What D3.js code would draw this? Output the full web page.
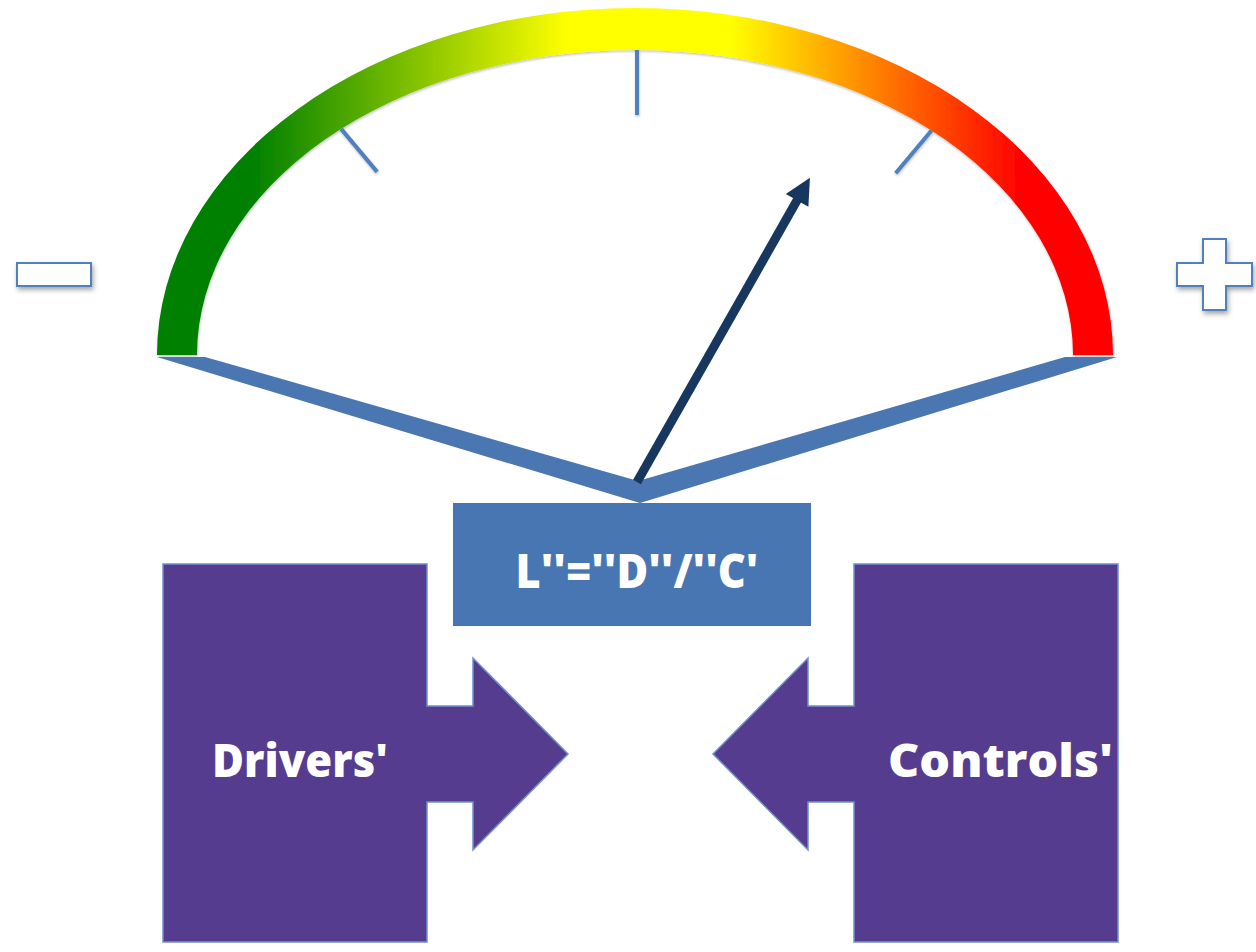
<!DOCTYPE html>
<html>
<head>
<meta charset="utf-8">
<script src="https://cdn.jsdelivr.net/npm/d3@7"></script>
<style>
  html, body { margin: 0; padding: 0; background: #ffffff; }
  svg { display: block; }
</style>
</head>
<body>
<svg id="chart" width="1256" height="952"></svg>
<script>
// ---- data ----
const gaugeStops  = [0, 0.10, 0.43, 0.60, 0.905, 1];
const gaugeColors = ["#008000", "#008000", "#ffff00", "#ffff00", "#ff0000", "#ff0000"];
const tickValues  = [-0.444, 0, 0.444];   // scale positions of gauge ticks
const needleValue = 0.329;                // needle reading
const formulaText = "L''=''D''/''C'";
const factorLabels = ["Drivers'", "Controls'"];
const signLabels  = ["minus", "plus"];

// ---- layout ----
const svg = d3.select("#chart");
const C = {x: 635, y: 355};            // ellipse centre of the dial
const P = {x: 637, y: 482};            // needle pivot
const outerR = {rx: 478, ry: 347};
const innerR = {rx: 438, ry: 305};
const tickInR = {rx: 399, ry: 240};

const angle = d3.scaleLinear().domain([-1, 1]).range([-90, 90]); // degrees from vertical

const defs = svg.append("defs");
const grad = defs.append("linearGradient").attr("id", "gaugeGrad")
  .attr("gradientUnits", "userSpaceOnUse")
  .attr("x1", C.x - outerR.rx).attr("x2", C.x + outerR.rx).attr("y1", 0).attr("y2", 0);
grad.selectAll("stop").data(gaugeStops).join("stop")
  .attr("offset", d => d).attr("stop-color", (d, i) => gaugeColors[i]);

const shadow = defs.append("filter").attr("id", "shadow")
  .attr("x", "-20%").attr("y", "-20%").attr("width", "150%").attr("height", "160%");
shadow.append("feDropShadow").attr("dx", 1.5).attr("dy", 3).attr("stdDeviation", 2.5)
  .attr("flood-color", "#000").attr("flood-opacity", 0.35);

const softShadow = defs.append("filter").attr("id", "soft")
  .attr("filterUnits", "userSpaceOnUse")
  .attr("x", 0).attr("y", 0).attr("width", 1256).attr("height", 952);
softShadow.append("feDropShadow").attr("dx", 0.5).attr("dy", 1.5).attr("stdDeviation", 1.2)
  .attr("flood-color", "#000").attr("flood-opacity", 0.25);

// ---- gauge arc ----
const arcD = `M${C.x - outerR.rx},${C.y}` +
  ` A${outerR.rx},${outerR.ry} 0 0 1 ${C.x + outerR.rx},${C.y}` +
  ` L${C.x + innerR.rx},${C.y}` +
  ` A${innerR.rx},${innerR.ry} 0 0 0 ${C.x - innerR.rx},${C.y} Z`;
svg.append("path").attr("d", arcD).attr("fill", "url(#gaugeGrad)").attr("filter", "url(#soft)");

// ray from pivot intersecting an ellipse centred at C
function rayHit(deg, R) {
  const t0 = deg * Math.PI / 180;
  const dx = Math.sin(t0), dy = -Math.cos(t0);
  const ox = P.x - C.x, oy = P.y - C.y;
  const a = (dx * dx) / (R.rx * R.rx) + (dy * dy) / (R.ry * R.ry);
  const b = 2 * ((ox * dx) / (R.rx * R.rx) + (oy * dy) / (R.ry * R.ry));
  const c = (ox * ox) / (R.rx * R.rx) + (oy * oy) / (R.ry * R.ry) - 1;
  const t = (-b + Math.sqrt(b * b - 4 * a * c)) / (2 * a);
  return [P.x + t * dx, P.y + t * dy];
}

// ---- ticks ----
svg.append("g").selectAll("line").data(tickValues).join("line")
  .each(function(v) {
    const p1 = rayHit(angle(v), innerR), p2 = rayHit(angle(v), tickInR);
    d3.select(this).attr("x1", p1[0]).attr("y1", p1[1]).attr("x2", p2[0]).attr("y2", p2[1]);
  })
  .attr("stroke", "#4f81bd").attr("stroke-width", 4).attr("filter", "url(#soft)");

// ---- base V shape ----
const vPts = [
  [C.x - outerR.rx, 357], [205, 357], [638, 481], [1065, 357], [C.x + outerR.rx + 4, 357], [640, 503]
];
svg.append("path").attr("d", d3.line()(vPts) + "Z").attr("fill", "#4a76b2");

// ---- needle ----
const nAng = angle(needleValue) * Math.PI / 180;
const nLen = 350, headLen = 26, headHalf = 13;
const ux = Math.sin(nAng), uy = -Math.cos(nAng);
const tip = [P.x + ux * nLen, P.y + uy * nLen];
const base = [tip[0] - ux * headLen, tip[1] - uy * headLen];
svg.append("line")
  .attr("x1", P.x).attr("y1", P.y).attr("x2", base[0] + ux * 2).attr("y2", base[1] + uy * 2)
  .attr("stroke", "#17375e").attr("stroke-width", 9);
svg.append("path")
  .attr("d", d3.line()([
    tip,
    [base[0] - uy * headHalf, base[1] + ux * headHalf],
    [base[0] + uy * headHalf, base[1] - ux * headHalf]
  ]) + "Z")
  .attr("fill", "#17375e");

// ---- formula box ----
svg.append("rect").attr("x", 453).attr("y", 503).attr("width", 358).attr("height", 123)
  .attr("fill", "#4876b3");
svg.append("text").attr("x", 637).attr("y", 588)
  .attr("text-anchor", "middle")
  .attr("font-family", "'Open Sans', 'Noto Sans', sans-serif").attr("font-weight", 800)
  .attr("font-size", 48).attr("fill", "#ffffff")
  .attr("textLength", 243).attr("lengthAdjust", "spacingAndGlyphs")
  .text(formulaText);

// ---- driver / control block arrows ----
function blockArrow(dir) {
  const mid = 640.5;
  const pts = [
    [163, 564], [427, 564], [427, 706], [473, 706], [473, 658], [568, 754],
    [473, 850], [473, 802], [427, 802], [427, 942], [163, 942]
  ].map(p => dir > 0 ? p : [2 * mid - p[0], p[1]]);
  return d3.line()(pts) + "Z";
}
const blocks = svg.append("g");
blocks.selectAll("path").data(factorLabels).join("path")
  .attr("d", (d, i) => blockArrow(i === 0 ? 1 : -1))
  .attr("fill", "#553c8e").attr("stroke", "#7090d0").attr("stroke-width", 1.5);
const labelPos = [[300, 777, 176], [1000.5, 777, 225]];
blocks.selectAll("text").data(factorLabels).join("text")
  .attr("x", (d, i) => labelPos[i][0]).attr("y", (d, i) => labelPos[i][1])
  .attr("text-anchor", "middle")
  .attr("font-family", "'Open Sans', 'Noto Sans', sans-serif").attr("font-weight", 800)
  .attr("font-size", 46).attr("fill", "#ffffff")
  .attr("textLength", (d, i) => labelPos[i][2]).attr("lengthAdjust", "spacingAndGlyphs")
  .text(d => d);

// ---- minus / plus signs ----
const signs = svg.append("g");
signs.selectAll("path").data(signLabels).join("path")
  .attr("d", d => {
    if (d === "minus") return "M17,263 H91 V286 H17 Z";
    return "M1203,239 H1226 V263 H1252 V286 H1226 V310 H1203 V286 H1177 V263 H1203 Z";
  })
  .attr("fill", "#ffffff").attr("stroke", "#4f81bd").attr("stroke-width", 2)
  .attr("filter", "url(#shadow)");
</script>
</body>
</html>
